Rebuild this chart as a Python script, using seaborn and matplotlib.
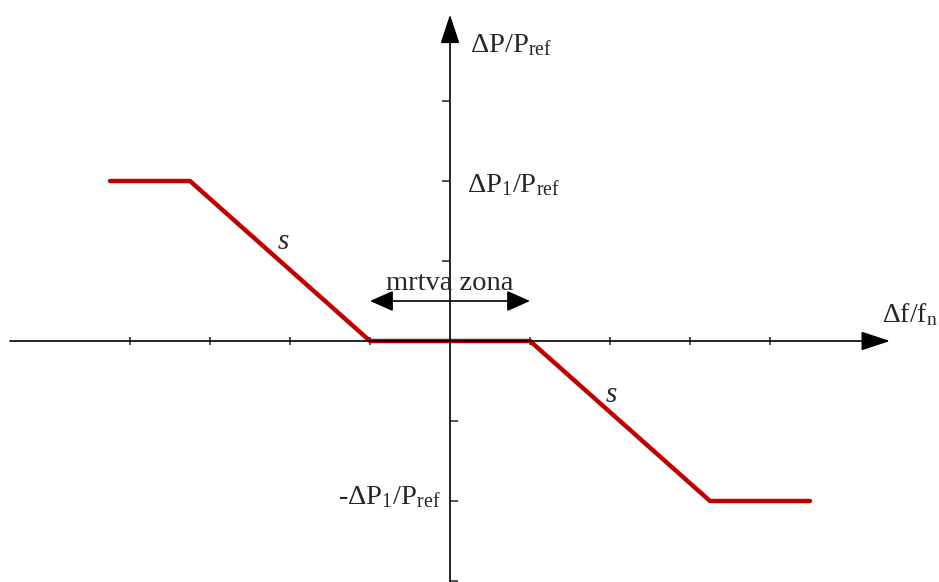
import matplotlib
matplotlib.use("Agg")
import matplotlib.pyplot as plt
import seaborn as sns
import pandas as pd

# droop characteristic (units of tick spacing)
df_points = [-4.25, -3.25, -1.0, 1.0, 3.25, 4.5]
dp_points = [2.0, 2.0, 0.0, 0.0, -2.0, -2.0]

x_ticks = [-4, -3, -2, -1, 1, 2, 3, 4]
y_ticks_up = [1, 2, 3]
y_ticks_down = [-1, -2, -3]

dead_zone = [-1.0, 1.0]
dead_zone_label = "mrtva zona"
slope_label = "s"

y_axis_label = "ΔP/P$_\\mathregular{ref}$"
x_axis_label = "Δf/f$_\\mathregular{n}$"
p1_label = "ΔP$_\\mathregular{1}$/P$_\\mathregular{ref}$"
m_p1_label = "-ΔP$_\\mathregular{1}$/P$_\\mathregular{ref}$"

sns.set_theme(style="white")
plt.rcParams['font.family'] = ['Liberation Serif', 'DejaVu Serif']
plt.rcParams['mathtext.fontset'] = 'custom'
plt.rcParams['mathtext.rm'] = 'Liberation Serif'
plt.rcParams['mathtext.it'] = 'Liberation Serif:italic'

fig = plt.figure(figsize=(9.39, 5.82), dpi=100)
ax = fig.add_axes([0, 0, 1, 1])

data = pd.DataFrame({"df": df_points, "dp": dp_points})
sns.lineplot(data=data, x="df", y="dp", sort=False, color="#C00000",
             linewidth=3.2, ax=ax, estimator=None)

ax.set_xlim(-5.625, 6.1125)
ax.set_ylim(-3.0125, 4.2625)
ax.set_xlabel("")
ax.set_ylabel("")

# spines through the origin (hidden, used only for the ticks)
for side in ["left", "right", "bottom"]:
    ax.spines[side].set_position(("data", 0))
    ax.spines[side].set_visible(False)
ax.spines["top"].set_visible(False)

ax.set_xticks(x_ticks)
ax.set_xticklabels([])
ax.set_yticks(y_ticks_up)
ax.set_yticks(y_ticks_down, minor=True)
ax.set_yticklabels([])
ax.tick_params(axis="x", which="major", direction="inout", length=5.5, width=1.1,
               color="#222222", bottom=True, top=False)
ax.tick_params(axis="y", which="major", direction="out", length=6, width=1.1,
               color="#222222", left=True, right=False)
ax.tick_params(axis="y", which="minor", direction="out", length=6, width=1.1,
               color="#222222", left=False, right=True)

# axis lines with arrow heads
axis_arrow = dict(arrowstyle="-|>,head_length=1.0,head_width=0.33", mutation_scale=18,
                  color="black", lw=1.2, shrinkA=0, shrinkB=0)
ax.annotate("", xy=(5.5, 0), xytext=(-5.5, 0), arrowprops=axis_arrow)
ax.annotate("", xy=(0, 4.08), xytext=(0, -3.1), arrowprops=axis_arrow)

# dead zone double arrow
ax.annotate("", xy=(dead_zone[1], 0.5), xytext=(dead_zone[0], 0.5),
            arrowprops=dict(arrowstyle="<|-|>,head_length=0.9,head_width=0.4",
                            mutation_scale=16, color="black", lw=1.2,
                            shrinkA=0, shrinkB=0))
ax.text(0, 0.72, dead_zone_label, ha="center", va="center", fontsize=20.5)

ax.text(-2.08, 1.24, slope_label, ha="center", va="center", fontsize=21, style="italic")
ax.text(2.02, -0.67, slope_label, ha="center", va="center", fontsize=21, style="italic")

ax.text(0.25, 3.7, y_axis_label, ha="left", va="center", fontsize=20.5)
ax.text(5.4, 0.33, x_axis_label, ha="left", va="center", fontsize=20)
ax.text(0.21, 1.95, p1_label, ha="left", va="center", fontsize=20.5)
ax.text(-0.12, -1.95, m_p1_label, ha="right", va="center", fontsize=20.5)

fig.savefig("out.png", dpi=100)
